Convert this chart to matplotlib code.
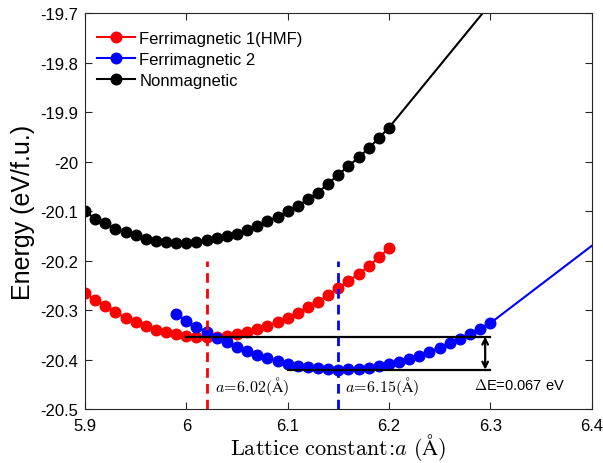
import matplotlib
matplotlib.use('Agg')
import matplotlib.pyplot as plt

plt.rcParams['font.family'] = ['Liberation Sans', 'DejaVu Sans']
plt.rcParams['mathtext.fontset'] = 'cm'

# Datos
x_fm1 = [5.90, 5.91, 5.92, 5.93, 5.94, 5.95, 5.96, 5.97, 5.98, 5.99, 6.00, 6.01, 6.02, 6.03, 6.04, 6.05,
         6.06, 6.07, 6.08, 6.09, 6.10, 6.11, 6.12, 6.13, 6.14, 6.15, 6.16, 6.17, 6.18, 6.19, 6.20]
e_fm1 = [-20.265, -20.279, -20.292, -20.304, -20.315, -20.324, -20.332, -20.339, -20.344, -20.348, -20.351,
         -20.353, -20.354, -20.353, -20.351, -20.348, -20.344, -20.338, -20.331, -20.324, -20.315, -20.305,
         -20.294, -20.283, -20.269, -20.255, -20.241, -20.227, -20.211, -20.193, -20.175]

x_fm2 = [5.99, 6.00, 6.01, 6.02, 6.03, 6.04, 6.05, 6.06, 6.07, 6.08, 6.09, 6.10, 6.11, 6.12, 6.13, 6.14,
         6.15, 6.16, 6.17, 6.18, 6.19, 6.20, 6.21, 6.22, 6.23, 6.24, 6.25, 6.26, 6.27, 6.28, 6.29, 6.30, 6.40]
e_fm2 = [-20.307, -20.321, -20.333, -20.344, -20.355, -20.365, -20.375, -20.383, -20.390, -20.397, -20.403,
         -20.408, -20.412, -20.415, -20.417, -20.419, -20.420, -20.419, -20.418, -20.416, -20.413, -20.409,
         -20.404, -20.398, -20.392, -20.384, -20.376, -20.367, -20.358, -20.348, -20.337, -20.326, -20.170]

x_nm = [5.90, 5.91, 5.92, 5.93, 5.94, 5.95, 5.96, 5.97, 5.98, 5.99, 6.00, 6.01, 6.02, 6.03, 6.04, 6.05,
        6.06, 6.07, 6.08, 6.09, 6.10, 6.11, 6.12, 6.13, 6.14, 6.15, 6.16, 6.17, 6.18, 6.19, 6.20, 6.40]
e_nm = [-20.100, -20.115, -20.123, -20.135, -20.142, -20.148, -20.155, -20.159, -20.161, -20.163, -20.163,
        -20.161, -20.158, -20.154, -20.150, -20.145, -20.138, -20.129, -20.120, -20.111, -20.100, -20.089,
        -20.076, -20.062, -20.044, -20.026, -20.009, -19.991, -19.973, -19.952, -19.931, -19.431]

a_fm1 = 6.02
a_fm2 = 6.15
e_min_fm1 = -20.353
e_min_fm2 = -20.420

xticks = [5.9, 6.0, 6.1, 6.2, 6.3, 6.4]
xticklabels = ['5.9', '6', '6.1', '6.2', '6.3', '6.4']
yticks = [-20.5, -20.4, -20.3, -20.2, -20.1, -20.0, -19.9, -19.8, -19.7]
yticklabels = ['-20.5', '-20.4', '-20.3', '-20.2', '-20.1', '-20', '-19.9', '-19.8', '-19.7']

fig = plt.figure(figsize=(6.03, 4.64), dpi=100)
ax = fig.add_axes([0.141, 0.1157, 0.840, 0.8534])

ax.plot(x_fm1, e_fm1, '-o', color='red', lw=1.5, ms=7.6, label='Ferrimagnetic 1(HMF)')
ax.plot(x_fm2, e_fm2, '-o', color='blue', lw=1.5, ms=7.6, markevery=list(range(len(x_fm2) - 1)),
        label='Ferrimagnetic 2')
ax.plot(x_nm, e_nm, '-o', color='black', lw=1.5, ms=7.6, markevery=list(range(len(x_nm) - 1)),
        label='Nonmagnetic')

# lineas de parametro de red
ax.plot([a_fm1, a_fm1], [-20.5, -20.2], color='red', lw=2, ls=(0, (3.5, 2.2)))
ax.plot([a_fm2, a_fm2], [-20.5, -20.2], color='blue', lw=2, ls=(0, (3.5, 2.2)))

# diferencia de energia
ax.plot([6.0, 6.30], [e_min_fm1, e_min_fm1], color='black', lw=1.6)
ax.plot([6.10, 6.30], [e_min_fm2, e_min_fm2], color='black', lw=1.6)
ax.annotate('', xy=(6.295, e_min_fm2), xytext=(6.295, e_min_fm1),
            arrowprops=dict(arrowstyle='<->', color='black', lw=1.6, shrinkA=0, shrinkB=0,
                            mutation_scale=10))

ax.text(6.028, -20.451, r'$a\!=\!6.02(\mathrm{\AA})$', fontsize=11.5, va='center', ha='left')
ax.text(6.157, -20.451, r'$a\!=\!6.15(\mathrm{\AA})$', fontsize=11.5, va='center', ha='left')
ax.text(6.284, -20.449, r'$\Delta$E=0.067 eV', fontsize=10.5, va='center', ha='left')

ax.set_xlim(5.9, 6.4)
ax.set_ylim(-20.5, -19.7)
ax.set_xticks(xticks)
ax.set_xticklabels(xticklabels)
ax.set_yticks(yticks)
ax.set_yticklabels(yticklabels)
ax.tick_params(direction='in', top=True, right=True, labelsize=12, length=5, width=0.8,
               color='#262626', pad=5)
ax.tick_params(axis='x', pad=6)
for s in ax.spines.values():
    s.set_color('#262626')
    s.set_linewidth(0.8)

ax.set_xlabel(r'$\mathrm{Lattice\ constant\!:}\!a\ (\mathrm{\AA})$', fontsize=16, labelpad=-1.5)
ax.set_ylabel('Energy (eV/f.u.)', fontsize=18, labelpad=4)

ax.legend(loc='upper left', frameon=False, fontsize=12, handlelength=2.3, handletextpad=0.25,
          labelspacing=0.35, borderaxespad=0.3, bbox_to_anchor=(0.0, 0.985))

fig.savefig('out.png', dpi=100)
